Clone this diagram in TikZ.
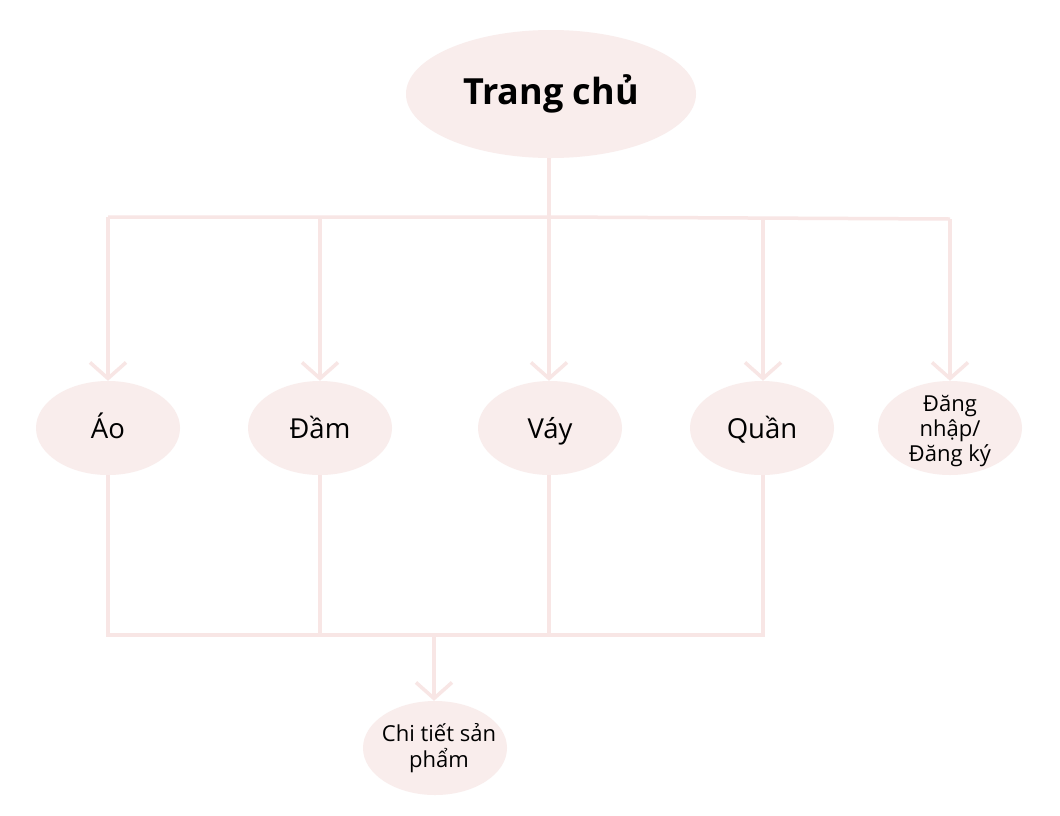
\documentclass[tikz,border=0pt]{standalone}
\usepackage{fontspec}
\setmainfont{Open Sans}
\usetikzlibrary{shapes.geometric,arrows.meta}
\definecolor{fillpink}{HTML}{F9EDEC}
\definecolor{linepink}{HTML}{F8E6E5}
\tikzset{
  bubble/.style={ellipse,fill=fillpink,draw=none,inner sep=0pt,minimum width=144pt,minimum height=94pt},
  lbl/.style={inner sep=0pt,align=center,font=\fontsize{27.5}{32}\selectfont},
  single/.style={text height=20pt,text depth=0pt},
  conn/.style={draw=linepink,line width=3.5pt},
  arr/.style={conn,-{Straight Barb[length=16pt,width=36pt,line width=3.5pt]}}
}
\begin{document}
\begin{tikzpicture}[x=1pt,y=-1pt]
\useasboundingbox[fill=white] (0,0) rectangle (1060,815);
\node[bubble,minimum width=290pt,minimum height=128pt] (home) at (551,94) {};
\node[bubble] (ao) at (108,428) {};
\node[bubble] (dam) at (320,428) {};
\node[bubble] (vay) at (550,428) {};
\node[bubble] (quan) at (762,428) {};
\node[bubble] (dn) at (950,428) {};
\node[bubble] (ct) at (435,748) {};
\node[lbl,font=\fontsize{36}{42}\selectfont\bfseries,text height=27pt,text depth=7pt] (homet) at (home.center) {Trang chủ};
\node[lbl,single] (aot) at (ao.center) {Áo};
\node[lbl,single] (damt) at (dam.center) {Đầm};
\node[lbl,single] (vayt) at (vay.center) {Váy};
\node[lbl,single] (quant) at (quan.center) {Quần};
\node[lbl,font=\fontsize{22}{25}\selectfont] (dnt) at ([yshift=-3pt]dn.center) {Đăng\\nhập/\\Đăng ký};
\node[lbl,font=\fontsize{22}{26}\selectfont] (ctt) at ([xshift=4pt]ct.center) {Chi tiết sản\\phẩm};
\coordinate (top) at (549,217);
\coordinate (tl) at (108,217);
\coordinate (tr) at (950,219);
\coordinate (bl) at (108,635);
\coordinate (br) at (763,635);
\coordinate (bm) at (434,635);
% top tree
\draw[conn] (home.south -| top) -- (top);
\draw[conn] (tl) -- (top) -- (tr);
\draw[arr] (tl) -- (ao.north);
\draw[arr] (320,217) -- (dam.north);
\draw[arr] (top) -- (vay.north -| top);
\draw[arr] (763,218) -- (quan.north -| br);
\draw[arr] (tr) -- (dn.north);
% bottom tree
\draw[conn] (ao.south) -- (bl) -- (br) -- (quan.south -| br);
\draw[conn] (dam.south) -- (dam.south |- bl);
\draw[conn] (vay.south -| top) -- (top |- bl);
\draw[arr] (bm) -- (ct.north -| bm);
\end{tikzpicture}
\end{document}
